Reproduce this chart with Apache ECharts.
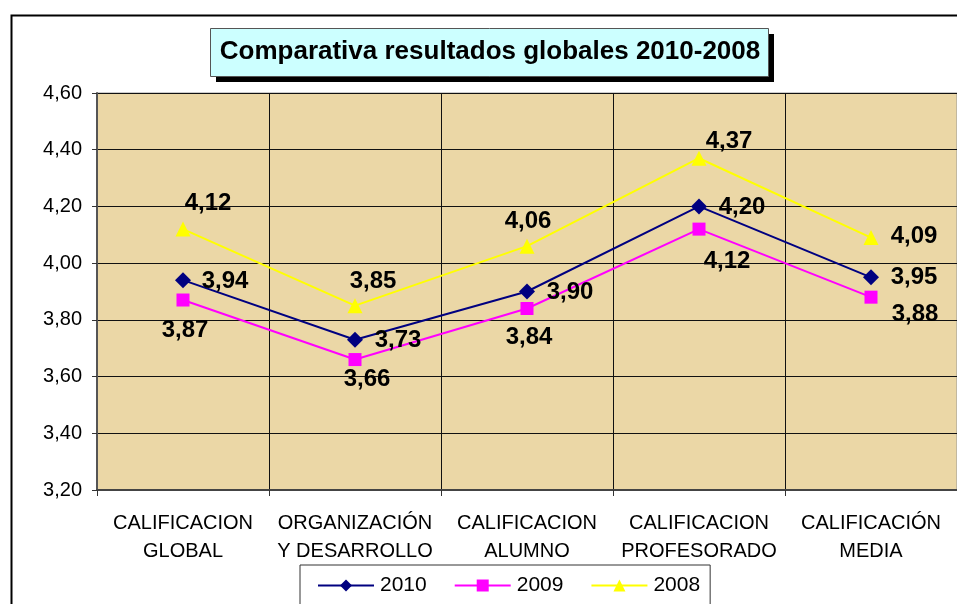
<!DOCTYPE html>
<html>
<head>
<meta charset="utf-8">
<script src="https://cdn.jsdelivr.net/npm/echarts@6/dist/echarts.min.js"></script>
<style>
  html, body { margin: 0; padding: 0; background: #fff; }
  #chart { width: 957px; height: 604px; }
</style>
</head>
<body>
<div id="chart"></div>
<script>
var categories = ["CALIFICACION\nGLOBAL", "ORGANIZACIÓN\nY DESARROLLO", "CALIFICACION\nALUMNO", "CALIFICACION\nPROFESORADO", "CALIFICACIÓN\nMEDIA"];
var values2010 = [3.94, 3.73, 3.90, 4.20, 3.95];
var values2009 = [3.87, 3.66, 3.84, 4.12, 3.88];
var values2008 = [4.12, 3.85, 4.06, 4.37, 4.09];
var yTicks = [3.2, 3.4, 3.6, 3.8, 4.0, 4.2, 4.4, 4.6];

// where each value label sits, relative to its point (Excel placed them by hand)
var offsets2010 = [[42, 1], [43, 1], [43, 1], [43, 1], [43, 0]];
var offsets2009 = [[2, 30], [12, 20], [2, 29], [28, 32], [44, 17]];
var offsets2008 = [[25, -26], [18, -24], [1, -25], [30, -17], [43, -1]];

var chart = echarts.init(document.getElementById("chart"));

function fmt(v) {
  return v.toFixed(2).replace(".", ",");
}

function buildData(values, offsets) {
  return values.map(function(v, i) {
    return { value: v, label: { offset: offsets[i] } };
  });
}

var labelStyle = {
  show: true,
  position: "inside",
  color: "#000",
  fontFamily: "Liberation Sans, Arial",
  fontWeight: "bold",
  fontSize: 24,
  formatter: function(p) { return fmt(p.value); }
};

function makeSeries(name, values, offsets, color, symbol, size) {
  return {
    name: name,
    type: "line",
    data: buildData(values, offsets),
    symbol: symbol,
    symbolSize: size,
    lineStyle: { color: color, width: 2 },
    itemStyle: { color: color },
    label: labelStyle,
    emphasis: { disabled: true },
    z: 3
  };
}

var option = {
  animation: false,
  textStyle: { fontFamily: "Liberation Sans, Arial" },
  legend: {
    left: 300,
    top: 565,
    padding: [10, 10, 14, 17],
    itemGap: 27,
    itemWidth: 56,
    itemHeight: 15,
    backgroundColor: "#fff",
    borderColor: "#333",
    borderWidth: 1,
    textStyle: { fontSize: 21, color: "#000", padding: [0, 0, 0, 1] },
    data: ["2010", "2009", "2008"]
  },
  grid: {
    left: 97,
    top: 93,
    width: 866,
    height: 397,
    show: true,
    backgroundColor: "#ebd7a6",
    borderColor: "#999",
    borderWidth: 1,
    containLabel: false
  },
  xAxis: {
    type: "category",
    data: categories,
    boundaryGap: true,
    axisLine: { lineStyle: { color: "#444", width: 2 } },
    axisTick: { show: true, length: 6, lineStyle: { color: "#333" } },
    splitLine: { show: true, lineStyle: { color: "#111", width: 1 } },
    axisLabel: {
      color: "#000",
      fontSize: 20,
      lineHeight: 28,
      margin: 19,
      interval: 0
    }
  },
  yAxis: {
    type: "value",
    min: yTicks[0],
    max: yTicks[yTicks.length - 1],
    interval: 0.2,
    axisLine: { show: true, lineStyle: { color: "#555", width: 2 } },
    axisTick: { show: true, length: 5, lineStyle: { color: "#333" } },
    splitLine: { show: true, lineStyle: { color: "#111", width: 1 } },
    axisLabel: {
      color: "#000",
      fontSize: 20,
      margin: 15,
      formatter: function(v) { return fmt(v); }
    }
  },
  graphic: [
    {
      type: "rect",
      left: 9,
      top: 13,
      shape: { width: 960, height: 600 },
      style: { fill: "none", stroke: "#000", lineWidth: 2 },
      z: 100
    },
    // title box with its drop shadow
    {
      type: "rect",
      left: 216,
      top: 34,
      shape: { width: 558, height: 48 },
      style: { fill: "#000" },
      z: 100
    },
    {
      type: "rect",
      left: 210,
      top: 28,
      shape: { width: 558, height: 48 },
      style: { fill: "#ccffff", stroke: "#555", lineWidth: 1 },
      z: 101
    },
    {
      type: "text",
      x: 490,
      y: 52,
      style: {
        text: "Comparativa resultados globales 2010-2008",
        fill: "#000",
        font: "bold 26px 'Liberation Sans', Arial",
        align: "center",
        verticalAlign: "middle"
      },
      z: 102
    }
  ],
  series: [
    makeSeries("2010", values2010, offsets2010, "#000080", "diamond", 16),
    makeSeries("2009", values2009, offsets2009, "#ff00ff", "rect", 13),
    makeSeries("2008", values2008, offsets2008, "#ffff00", "triangle", 15)
  ]
};

chart.setOption(option);
</script>
</body>
</html>
